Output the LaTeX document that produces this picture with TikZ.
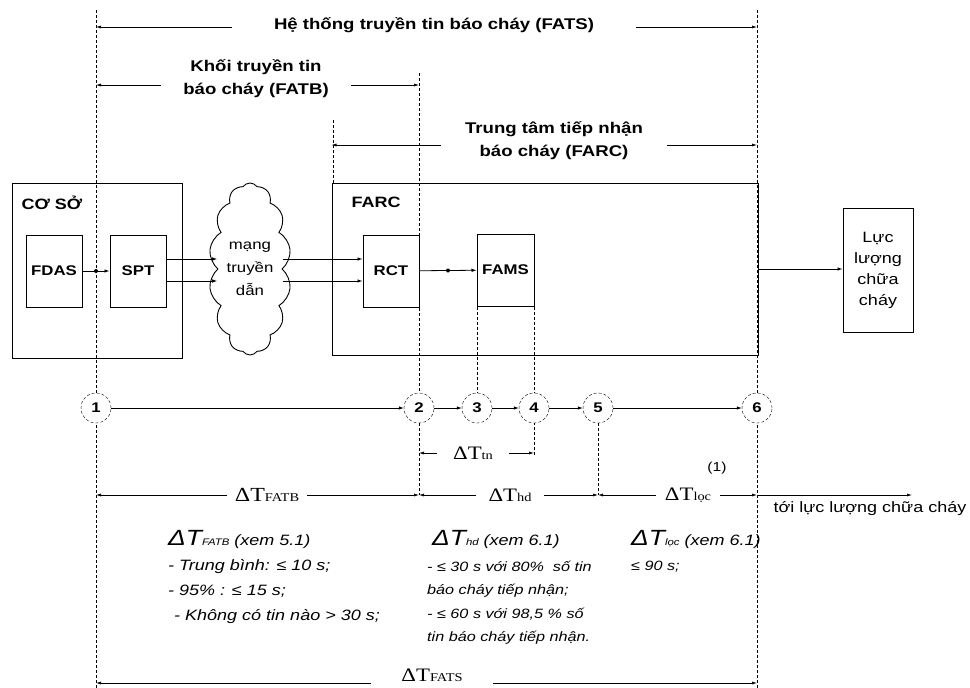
\documentclass[tikz,border=0pt]{standalone}
\usepackage{fontspec}
\setmainfont{Liberation Sans}[FakeStretch=1.2]
\newfontfamily\tmsfont{Liberation Serif}[FakeStretch=1.2]
\usetikzlibrary{arrows.meta,shapes.symbols}
\newcommand{\fs}[2]{\fontsize{#1}{#2}\selectfont}
\newcommand{\dT}[2]{{\tmsfont\fs{#1}{#1}ΔT\fs{12}{12}#2}}
\newcommand{\dTi}[1]{{\itshape\fs{22}{22}ΔT\fs{9.5}{9.5}#1}}

\tikzset{
 frame/.style={draw, line width=1pt, inner sep=0pt},
 unit/.style={frame, minimum width=56pt, minimum height=72pt, font=\bfseries\fs{14}{14}},
 stage/.style={draw, densely dashed, circle, fill=white, minimum size=30pt, inner sep=0pt, font=\bfseries\fs{14}{14}},
 guide/.style={densely dashed, line width=0.5pt},
 link/.style={-{Latex[length=5pt,width=3.5pt]}, line width=0.8pt},
 span/.style={-{Latex[length=5pt,width=3pt]}, line width=0.6pt},
 dot/.style={fill, circle, inner sep=0pt, minimum size=4pt},
 head/.style={font=\bfseries\fs{15.5}{23}, align=center, inner ysep=0pt},
 note/.style={align=left, font=\itshape\fs{15}{25}, inner sep=0pt},
}

\begin{document}
\begin{tikzpicture}[x=1pt,y=-1pt]
\useasboundingbox (0,0) rectangle (970,688);
% time marks
\draw[guide] (96,10) -- (96,688) (757,10) -- (757,688);
\draw[guide] (419,73) -- (419,495) (333,120) -- (333,183);
\draw[guide] (477,307) -- (477,393) (534,307) -- (534,455) (598,423) -- (598,495);

% units
\node[frame, minimum width=170pt, minimum height=175pt] (coso) at (97,270.5) {};
\node[frame, minimum width=426pt, minimum height=172pt] (farc) at (545,269) {};
\node[anchor=west, font=\bfseries\fs{15}{15}] (cosot) at (18,203) {CƠ SỞ};
\node[anchor=west, font=\bfseries\fs{15}{15}] (farct) at (348,202) {FARC};
\node[unit] (fdas) at (54,271) {FDAS};
\node[unit] (spt) at (138,271) {SPT};
\node[unit] (rct) at (391,271) {RCT};
\node[unit, minimum width=57pt] (fams) at (505.5,270) {FAMS};
\node[frame, minimum width=70pt, minimum height=124pt, align=center, font=\fs{15}{21}] (luc) at (878,270) {Lực\\lượng\\chữa\\cháy};
\node[cloud, draw, line width=0.9pt, cloud puffs=14, cloud puff arc=110, aspect=0.43, minimum width=76pt, minimum height=172pt, inner sep=0pt, align=center, font=\fs{14}{23}] (net) at (250,269) {mạng\\truyền\\dẫn};

\draw[link] (fdas) -- node[dot]{} (spt);
\foreach \d in {12,-10} {
 \draw[link] ([yshift=\d pt]spt.east) -- ([yshift=\d pt]spt.east -| net.west);
 \draw[link] ([yshift=\d pt]spt.east -| net.east) -- ([yshift=\d pt]rct.west);
 }
\draw[link] (rct) -- node[dot]{} (fams);
\draw[link] (farc.east) -- (farc.east -| luc.west);

% stages
\foreach \i/\x in {1/96,2/419,3/477,4/534,5/598,6/757}
 \node[stage] (c\i) at (\x,408) {\i};
\foreach \a/\b in {1/2,2/3,3/4,4/5,5/6}
 \draw[link] (c\a) -- (c\b);

% headings
\node[head, inner xsep=42pt] (fats) at (434,25) {Hệ thống truyền tin báo cháy (FATS)};
\draw[span] ([yshift=-2pt]fats.west) -- ([yshift=-2pt]fats.west -| c1);
\draw[span] ([yshift=-2pt]fats.east) -- ([yshift=-2pt]fats.east -| c6);
\node[head, inner xsep=22pt] (fatb) at (256,78.5) {Khối truyền tin\\báo cháy (FATB)};
\draw[span] ([yshift=-6.5pt]fatb.west) -- ([yshift=-6.5pt]fatb.west -| c1);
\draw[span] ([yshift=-6.5pt]fatb.east) -- ([yshift=-6.5pt]fatb.east -| c2);
\node[head, inner xsep=24pt] (farch) at (554,140.5) {Trung tâm tiếp nhận\\báo cháy (FARC)};
\draw[span] ([yshift=-4.5pt]farch.west) -- ([yshift=-4.5pt]farch.west -| farc.west);
\draw[span] ([yshift=-4.5pt]farch.east) -- ([yshift=-4.5pt]farch.east -| c6);

% intervals
\node[inner xsep=16pt] (dtn) at (473,453) {\dT{19}{tn}};
\draw[span] (dtn.west) -- (dtn.west -| c2);
\draw[span] (dtn.east) -- (dtn.east -| c4);
\node[inner xsep=8pt] (dfatb) at (267,495) {\dT{20}{FATB}};
\draw[span] (dfatb.west) -- (dfatb.west -| c1);
\draw[span] (dfatb.east) -- (dfatb.east -| c2);
\node[inner xsep=12pt] (dhd) at (510,495) {\dT{19}{hd}};
\draw[span] (dhd.west) -- (dhd.west -| c2);
\draw[span] (dhd.east) -- (dhd.east -| c5);
\node[inner xsep=9pt] (dloc) at (688,495) {\dT{19}{lọc}};
\draw[span] (dloc.west) -- (dloc.west -| c5);
\draw[span] (dloc.east) -- (dloc.east -| c6);
\node[font=\fs{13}{13}] (ref) at (717,468) {(1)};
\coordinate (fwd) at (912,495);
\draw[span] (c6 |- dloc) -- (fwd);
\node[anchor=west, font=\fs{15}{15}] (fwdt) at (770,509) {tới lực lượng chữa cháy};
\node[inner xsep=30pt, inner ysep=0pt] (dfats) at (432,675) {\dT{19}{FATS}};
\draw[span] ([yshift=-8pt]dfats.west) -- ([yshift=-8pt]dfats.west -| c1);
\draw[span] ([yshift=-8pt]dfats.east) -- ([yshift=-8pt]dfats.east -| c6);

% limits
\node[note, anchor=base west] (tfatb) at (168,545) {\dTi{FATB} (xem 5.1)};
\node[note, anchor=north west] (bfatb) at (168,559) {- Trung bình: ≤ 10 s;\\- 95\% : ≤ 15 s;\\\hspace*{6pt}- Không có tin nào > 30 s;};
\node[note, anchor=base west] (thd) at (432,545) {\dTi{hd} (xem 6.1)};
\node[note, anchor=north west, font=\itshape\fs{13.5}{23.3}] (bhd) at (427,561) {- ≤ 30 s với 80\%\ \ số tin\\báo cháy tiếp nhận;\\- ≤ 60 s với 98,5 \% số\\tin báo cháy tiếp nhận.};
\node[note, anchor=base west] (tloc) at (631,545) {\dTi{lọc} (xem 6.1)};
\node[note, anchor=north west, font=\itshape\fs{13.5}{23.3}] (bloc) at (631,561) {≤ 90 s;};
\end{tikzpicture}
\end{document}
